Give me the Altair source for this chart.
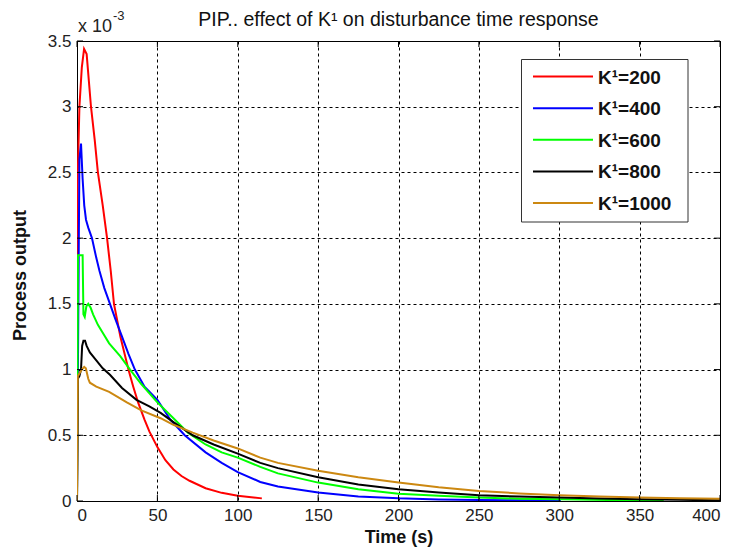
import altair as alt
import pandas as pd

FONT = "Liberation Sans"

series_labels = ["K¹=200", "K¹=400", "K¹=600", "K¹=800", "K¹=1000"]
series_colors = ["#FF0000", "#0000FF", "#00FF00", "#000000", "#CC8811"]

x_ticks = [0, 50, 100, 150, 200, 250, 300, 350, 400]
y_ticks = [0, 0.5, 1, 1.5, 2, 2.5, 3, 3.5]

# values in units of 1e-3
t_200 = [0, 0.3, 1.5, 3, 4.4, 6, 8.7, 11, 13, 16, 18.7, 21, 23, 27, 32, 35, 38, 42, 45, 50, 55, 60, 65, 70, 80, 90, 100, 107, 115]
v_200 = [0, 2.4, 3.0, 3.3, 3.44, 3.4, 3.0, 2.75, 2.5, 2.25, 2.0, 1.75, 1.5, 1.25, 1.0, 0.87, 0.75, 0.62, 0.53, 0.41, 0.31, 0.24, 0.19, 0.154, 0.097, 0.062, 0.04, 0.03, 0.02]

t_400 = [0, 0.8, 1.5, 2.5, 3.5, 4.5, 5.6, 7, 9.3, 12, 14, 17, 20.5, 24, 28, 32, 36, 42, 50, 58, 67, 80, 90, 100, 114, 125, 150, 175, 200, 225, 250, 275, 301]
v_400 = [0, 1.4, 2.6, 2.72, 2.45, 2.25, 2.14, 2.08, 2.0, 1.85, 1.75, 1.62, 1.5, 1.38, 1.25, 1.12, 1.0, 0.87, 0.77, 0.62, 0.5, 0.37, 0.29, 0.22, 0.145, 0.11, 0.064, 0.035, 0.02, 0.012, 0.008, 0.005, 0.003]

t_600 = [0, 0.6, 3.5, 4.0, 4.8, 5.8, 7.0, 8.5, 10, 13, 16, 20, 27, 33, 40, 50, 60, 69, 80, 90, 100, 114, 125, 150, 175, 200, 225, 250, 275, 300, 330, 365]
v_600 = [0, 1.87, 1.87, 1.42, 1.40, 1.48, 1.50, 1.47, 1.42, 1.34, 1.28, 1.20, 1.10, 1.0, 0.89, 0.75, 0.63, 0.52, 0.43, 0.37, 0.33, 0.26, 0.21, 0.14, 0.09, 0.056, 0.04, 0.026, 0.018, 0.013, 0.008, 0.005]

t_800 = [0, 0.5, 1.5, 2.5, 3.2, 4, 5, 6, 8, 12, 16, 20.5, 28, 37, 45, 52, 60, 72, 85, 100, 114, 125, 150, 175, 200, 225, 250, 275, 300, 325, 350, 375, 400]
v_800 = [0, 0.93, 0.95, 1.0, 1.18, 1.22, 1.22, 1.18, 1.13, 1.07, 1.01, 0.96, 0.86, 0.77, 0.72, 0.67, 0.6, 0.5, 0.43, 0.36, 0.29, 0.25, 0.18, 0.125, 0.09, 0.065, 0.044, 0.034, 0.026, 0.019, 0.013, 0.009, 0.005]

t_1000 = [0, 0.5, 1.5, 3, 4.5, 5.5, 7, 8, 12, 20, 31, 40, 52, 60, 72, 85, 100, 114, 125, 150, 175, 200, 225, 250, 275, 300, 325, 350, 375, 400]
v_1000 = [0, 0.95, 0.97, 1.0, 1.02, 1.01, 0.93, 0.9, 0.87, 0.83, 0.75, 0.69, 0.63, 0.58, 0.52, 0.46, 0.40, 0.33, 0.29, 0.23, 0.18, 0.14, 0.105, 0.077, 0.058, 0.044, 0.034, 0.026, 0.021, 0.018]

title_text = "PIP.. effect of K¹ on disturbance time response"
exp_base_text = "x 10"
exp_pow_text = "-3"

all_t = [t_200, t_400, t_600, t_800, t_1000]
all_v = [v_200, v_400, v_600, v_800, v_1000]

rows = []
for lab, ts, vs in zip(series_labels, all_t, all_v):
    for i, (t, v) in enumerate(zip(ts, vs)):
        rows.append({"series": lab, "t": t, "v": v, "idx": i})
df = pd.DataFrame(rows)

W, H = 643, 460

xscale = alt.Scale(domain=[0, 400], nice=False, zero=False)
yscale = alt.Scale(domain=[0, 3.5], nice=False, zero=False)

lines = alt.Chart(df).mark_line(strokeWidth=2, clip=True).encode(
    x=alt.X("t:Q", scale=xscale,
            axis=alt.Axis(values=x_ticks, title="Time (s)", format="d",
                          titleX=W / 2, titleY=36, titleBaseline="middle",
                          labelPadding=6)),
    y=alt.Y("v:Q", scale=yscale,
            axis=alt.Axis(values=y_ticks, title="Process output", format="~g",
                          titleX=-57, titleY=234, titleAngle=-90,
                          titleBaseline="middle", titleAlign="center",
                          labelPadding=6)),
    color=alt.Color("series:N",
                    scale=alt.Scale(domain=series_labels, range=series_colors),
                    sort=series_labels, legend=None),
    order="idx:Q",
)

# inside tick marks on all four edges (MATLAB style)
xt = pd.DataFrame({"t": x_ticks})
yt = pd.DataFrame({"v": y_ticks})
tick_bottom = alt.Chart(xt).mark_rule(color="black", strokeWidth=1).encode(
    x=alt.X("t:Q", scale=xscale), y=alt.value(H), y2=alt.value(H - 6))
tick_top = alt.Chart(xt).mark_rule(color="black", strokeWidth=1).encode(
    x=alt.X("t:Q", scale=xscale), y=alt.value(0), y2=alt.value(6))
tick_left = alt.Chart(yt).mark_rule(color="black", strokeWidth=1).encode(
    y=alt.Y("v:Q", scale=yscale), x=alt.value(0), x2=alt.value(6))
tick_right = alt.Chart(yt).mark_rule(color="black", strokeWidth=1).encode(
    y=alt.Y("v:Q", scale=yscale), x=alt.value(W), x2=alt.value(W - 6))

title_mark = alt.Chart(pd.DataFrame({"txt": [title_text]})).mark_text(
    font=FONT, fontSize=19.5, align="center", baseline="alphabetic", color="#111"
).encode(x=alt.value(W / 2), y=alt.value(-15), text="txt:N")

exp_base = alt.Chart(pd.DataFrame({"txt": [exp_base_text]})).mark_text(
    font=FONT, fontSize=18, align="left", baseline="alphabetic", color="#222"
).encode(x=alt.value(1), y=alt.value(-9), text="txt:N")

exp_pow = alt.Chart(pd.DataFrame({"txt": [exp_pow_text]})).mark_text(
    font=FONT, fontSize=13, align="left", baseline="alphabetic", color="#222"
).encode(x=alt.value(36), y=alt.value(-21), text="txt:N")

# legend box (inside plot, top-right)
LX0, LX1, LY0, LY1 = 444.5, 611, 18.5, 181
ROW0, ROWSTEP = 35.6, 31.6
one = pd.DataFrame({"k": [0]})
legend_box = alt.Chart(one).mark_rect(fill="white", stroke="#333", strokeWidth=1).encode(
    x=alt.value(LX0), x2=alt.value(LX1), y=alt.value(LY0), y2=alt.value(LY1))

legend_layers = [legend_box]
for i, (lab, col) in enumerate(zip(series_labels, series_colors)):
    yy = ROW0 + i * ROWSTEP
    legend_layers.append(
        alt.Chart(one).mark_rule(color=col, strokeWidth=2).encode(
            x=alt.value(456), x2=alt.value(516), y=alt.value(yy)))
    legend_layers.append(
        alt.Chart(pd.DataFrame({"txt": [lab]})).mark_text(
            font=FONT, fontSize=19, fontWeight="bold", align="left",
            baseline="middle", color="#111"
        ).encode(x=alt.value(521), y=alt.value(yy + 1), text="txt:N"))

chart = alt.layer(lines, tick_bottom, tick_top, tick_left, tick_right,
                  title_mark, exp_base, exp_pow, *legend_layers).properties(
    width=W, height=H,
    autosize=alt.AutoSizeParams(type="none"),
    padding={"left": 69, "top": 33, "right": 12, "bottom": 47},
    background="white",
).configure_view(
    stroke="black", strokeWidth=1
).configure_axis(
    grid=True, gridColor="black", gridDash=[3, 3], gridOpacity=1, gridWidth=1,
    ticks=False, domain=False,
    labelFont=FONT, labelFontSize=17, labelColor="#222",
    titleFont=FONT, titleFontSize=18, titleFontWeight="bold", titleColor="#111",
)

chart.save("out.html", embed_options={"renderer": "svg", "actions": False})
